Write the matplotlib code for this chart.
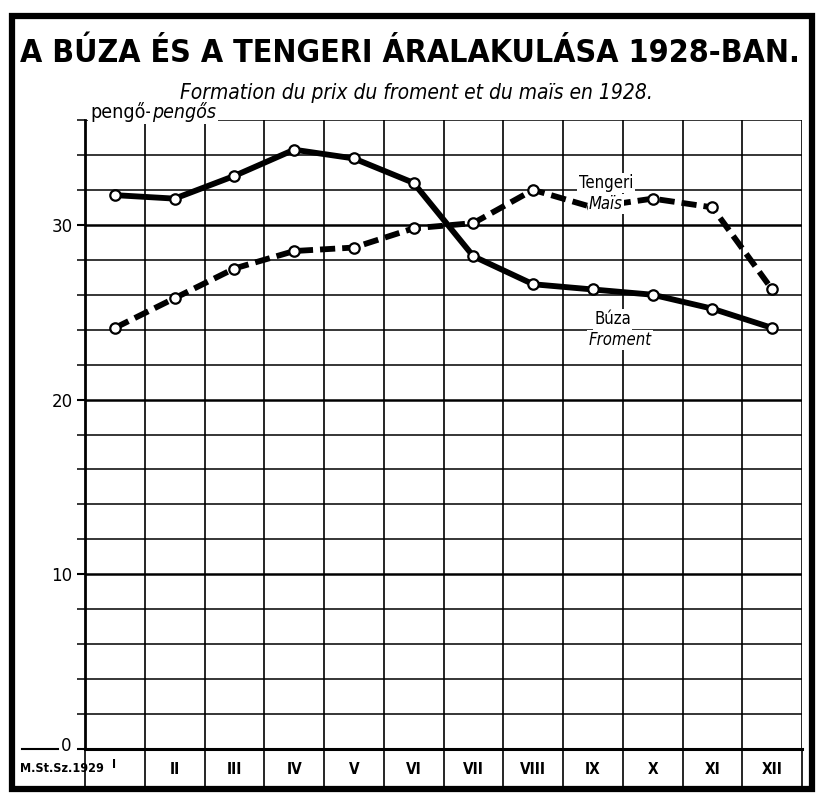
import matplotlib
matplotlib.use("Agg")
import matplotlib.pyplot as plt
from matplotlib import font_manager as fm
from matplotlib.patches import Rectangle
from matplotlib.lines import Line2D
import numpy as np

# ---- data ----
months = ["I", "II", "III", "IV", "V", "VI", "VII", "VIII", "IX", "X", "XI", "XII"]
wheat = [31.7, 31.5, 32.8, 34.3, 33.8, 32.4, 28.2, 26.6, 26.3, 26.0, 25.2, 24.1]   # Búza / Froment
maize = [24.1, 25.8, 27.5, 28.5, 28.7, 29.8, 30.1, 32.0, 31.0, 31.5, 31.0, 26.3]   # Tengeri / Maïs
y_ticks = [0, 10, 20, 30]
y_grid = list(range(0, 37, 2))

names = {f.name for f in fm.fontManager.ttflist}
COND = "Liberation Sans Narrow" if "Liberation Sans Narrow" in names else "DejaVu Sans"
STRETCH = "normal" if COND == "Liberation Sans Narrow" else "condensed"

W, H = 821, 793
fig = plt.figure(figsize=(W / 100, H / 100), dpi=100)
fig.patch.set_facecolor("white")

def fx(px):
    return px / W

def fy(py):
    return 1 - py / H

left, right, top, bottom = 85, 802, 120, 749
ax = fig.add_axes([fx(left), fy(bottom), fx(right) - fx(left), fy(top) - fy(bottom)])
ax.set_xlim(-0.5, 11.5)
ax.set_ylim(0, 36)

# grid
for v in y_grid:
    lw = 1.8 if v % 10 == 0 else 1.1
    ax.axhline(v, color="black", lw=lw, zorder=1)
for i in range(13):
    ax.axvline(i - 0.5, color="black", lw=1.2, zorder=1)

for s in ["top", "right"]:
    ax.spines[s].set_visible(False)
ax.spines["left"].set_linewidth(2.0)
ax.spines["bottom"].set_linewidth(2.2)

x = np.arange(len(months))
ax.plot(x, wheat, color="black", lw=4.2, solid_capstyle="round", zorder=3)
ml, = ax.plot(x, maize, color="black", lw=4.2, zorder=3)
ml.set_dashes((2.6, 1.2))
ax.plot(x, wheat, ls="none", marker="o", ms=7.5, mfc="white", mec="black", mew=1.6, zorder=4)
ax.plot(x, maize, ls="none", marker="o", ms=7.5, mfc="white", mec="black", mew=1.6, zorder=4)

# x ticks: separators in label strip + labels at month centres
ax.set_xticks(np.arange(13) - 0.5)
ax.set_xticklabels([""] * 13)
ax.tick_params(axis="x", which="major", length=28, width=1.2, direction="out")
ax.set_xticks(x, minor=True)
xl = list(months)
xl[0] = ""
ax.set_xticklabels(xl, minor=True, fontsize=11, fontfamily=COND, fontstretch=STRETCH, fontweight="bold")
ax.tick_params(axis="x", which="minor", length=0, pad=9)

# y ticks
ax.set_yticks(y_ticks)
ax.set_yticklabels(["", "10", "20", "30"], fontsize=12, fontfamily="DejaVu Sans")
ax.tick_params(axis="y", which="major", length=6, width=1.5, pad=3)
ax.set_yticks(y_grid, minor=True)
ax.tick_params(axis="y", which="minor", length=6, width=1.1)

# "0" label with long dash
fig.add_artist(Line2D([fx(22), fx(58)], [fy(749), fy(749)], color="black", lw=1.5))
fig.text(fx(66), fy(746), "0", fontsize=12, ha="center", va="center", fontfamily="DejaVu Sans")

# source + first month label
fig.text(fx(20), fy(768), "M.St.Sz.1929", fontsize=9, fontweight="bold", fontfamily=COND,
         fontstretch=STRETCH, ha="left", va="center")
fig.text(fx(114), fy(764), "I", fontsize=9, fontweight="bold", fontfamily=COND,
         fontstretch=STRETCH, ha="center", va="center")

# titles
fig.text(fx(410), fy(53), "A BÚZA ÉS A TENGERI ÁRALAKULÁSA 1928-BAN.", fontsize=23,
         fontweight="bold", fontfamily=COND, fontstretch=STRETCH, ha="center", va="center")
fig.text(fx(416), fy(93), "Formation du prix du froment et du maïs en 1928.", fontsize=15,
         style="italic", fontfamily=COND, fontstretch=STRETCH, ha="center", va="center")

# unit label
fig.text(fx(90), fy(112), "pengő-", fontsize=14, fontfamily=COND, fontstretch=STRETCH,
         ha="left", va="center", bbox=dict(fc="white", ec="none", pad=1.5), zorder=5)
fig.text(fx(152), fy(112), "pengős", fontsize=14, style="italic", fontfamily=COND,
         fontstretch=STRETCH, ha="left", va="center", bbox=dict(fc="white", ec="none", pad=1.5), zorder=5)

# series labels
def lab(xd, yd, txt, it=False):
    ax.text(xd, yd, txt, fontsize=12, fontfamily=COND, fontstretch=STRETCH,
            style="italic" if it else "normal", ha="center", va="center", zorder=5,
            bbox=dict(fc="white", ec="none", pad=1.0))

lab(8.22, 32.4, "Tengeri")
lab(8.22, 31.2, "Maïs", it=True)
lab(8.33, 24.6, "Búza")
lab(8.45, 23.4, "Froment", it=True)

# outer frame
fig.add_artist(Rectangle((fx(12), fy(789)), fx(812) - fx(12), fy(16) - fy(789),
                         fill=False, ec="black", lw=4.5, transform=fig.transFigure))

fig.savefig("out.png", dpi=100, facecolor="white")
